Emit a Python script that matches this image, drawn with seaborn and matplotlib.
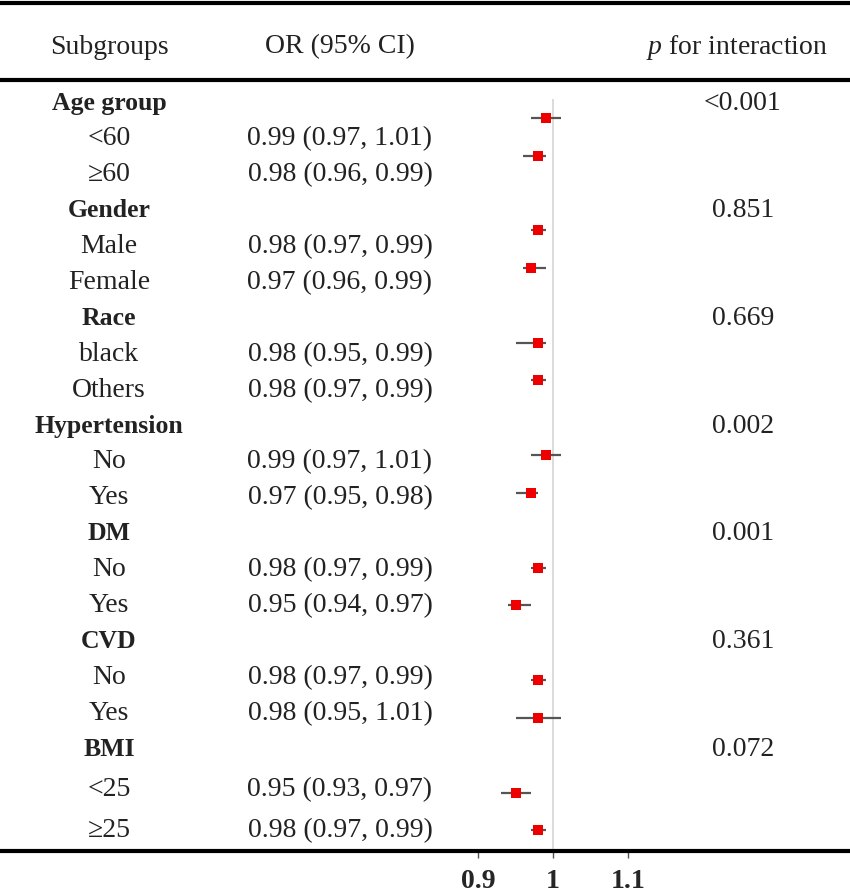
import matplotlib
matplotlib.use("Agg")
import matplotlib.pyplot as plt
import seaborn as sns
import pandas as pd
import numpy as np

# ---- data ----
group_names = ["Age group", "Gender", "Race", "Hypertension", "DM", "CVD", "BMI"]
p_interaction = ["<0.001", "0.851", "0.669", "0.002", "0.001", "0.361", "0.072"]
subgroup_labels = ["<60", "\u226560", "Male", "Female", "black", "Others", "No", "Yes",
                   "No", "Yes", "No", "Yes", "<25", "\u226525"]
or_est = [0.99, 0.98, 0.98, 0.97, 0.98, 0.98, 0.99, 0.97, 0.98, 0.95, 0.98, 0.98, 0.95, 0.98]
ci_low = [0.97, 0.96, 0.97, 0.96, 0.95, 0.97, 0.97, 0.95, 0.97, 0.94, 0.97, 0.95, 0.93, 0.97]
ci_high = [1.01, 0.99, 0.99, 0.99, 0.99, 0.99, 1.01, 0.98, 0.99, 0.97, 0.99, 1.01, 0.97, 0.99]
x_ticks = [0.9, 1.0, 1.1]
x_tick_labels = ["0.9", "1", "1.1"]

# ---- build row table ----
rows = []
k = 0
for g, p in zip(group_names, p_interaction):
    rows.append(dict(label=g, bold=True, est=np.nan, lo=np.nan, hi=np.nan, p=p))
    for _ in range(2):
        rows.append(dict(label=subgroup_labels[k], bold=False, est=or_est[k],
                         lo=ci_low[k], hi=ci_high[k], p=""))
        k += 1
df = pd.DataFrame(rows)
df["row"] = np.arange(len(df))

# ---- style ----
sns.set_theme(style="white")
plt.rcParams["font.family"] = ["Liberation Serif", "DejaVu Serif"]
plt.rcParams["mathtext.fontset"] = "custom"
plt.rcParams["mathtext.rm"] = "Liberation Serif"
plt.rcParams["mathtext.it"] = "Liberation Serif:italic"

W, H = 850, 895
fig = plt.figure(figsize=(W / 100, H / 100), dpi=100)
fig.patch.set_facecolor("white")

# text / layout axes in pixel coordinates
tax = fig.add_axes([0, 0, 1, 1])
tax.set_xlim(0, W)
tax.set_ylim(H, 0)
tax.axis("off")

FS = 20
FSB = 18.5
TXT = "#222222"
col1_x, col2_x = 109, 340
tax.text(col1_x, 47, "Subgroups", ha="center", va="center", fontsize=FS, color=TXT)
tax.text(col2_x, 47, "OR (95% CI)", ha="center", va="center", fontsize=FS, color=TXT)
tax.text(737, 47, r"$p$ for interaction", ha="center", va="center", fontsize=FS, color=TXT)
tax.axhline(4, color="black", lw=3)
tax.axhline(81, color="black", lw=3)

def table_y(i):
    if i <= 18:
        return 103 + 35.9 * i
    return {19: 790, 20: 831}[i]

for _, r in df.iterrows():
    y = table_y(r["row"])
    tax.text(col1_x, y, r["label"], ha="center", va="center",
             fontsize=FSB if r["bold"] else FS,
             fontweight="bold" if r["bold"] else "normal", color=TXT)
    if not r["bold"]:
        tax.text(col2_x, y, f"{r['est']:.2f} ({r['lo']:.2f}, {r['hi']:.2f})",
                 ha="center", va="center", fontsize=FS, color=TXT)
    if r["p"]:
        tax.text(743, y, r["p"], ha="center", va="center", fontsize=FS, color=TXT)

# forest axes
ax = fig.add_axes([0, (H - 852) / H, 1, (852 - 100) / H])
ax.set_facecolor("none")
x0 = 0.9 - 478 / 750
ax.set_xlim(x0, x0 + W / 750)
ax.set_ylim((852 - 81.5) / 37.5, (100 - 81.5) / 37.5)

ax.axvline(1.0, color="#d9d9d9", lw=1.3, zorder=1)
pts = df.dropna(subset=["est"])
ax.hlines(pts["row"], pts["lo"], pts["hi"], color="#555555", lw=1.6, zorder=2)
sns.scatterplot(data=pts, x="est", y="row", marker="s", s=55, color="#ee0000",
                edgecolor="#ee0000", linewidth=0, ax=ax, zorder=3)

for s in ["top", "left", "right"]:
    ax.spines[s].set_visible(False)
ax.spines["bottom"].set_linewidth(3)
ax.spines["bottom"].set_color("black")
ax.set_yticks([])
ax.set_xticks(x_ticks)
ax.set_xticklabels(x_tick_labels, fontsize=FS, fontweight="bold")
ax.tick_params(axis="x", direction="out", length=5, width=1, color="#555555",
               bottom=True, pad=7)
ax.set_xlabel("")
ax.set_ylabel("")

fig.savefig("out.png", dpi=100, facecolor="white")
